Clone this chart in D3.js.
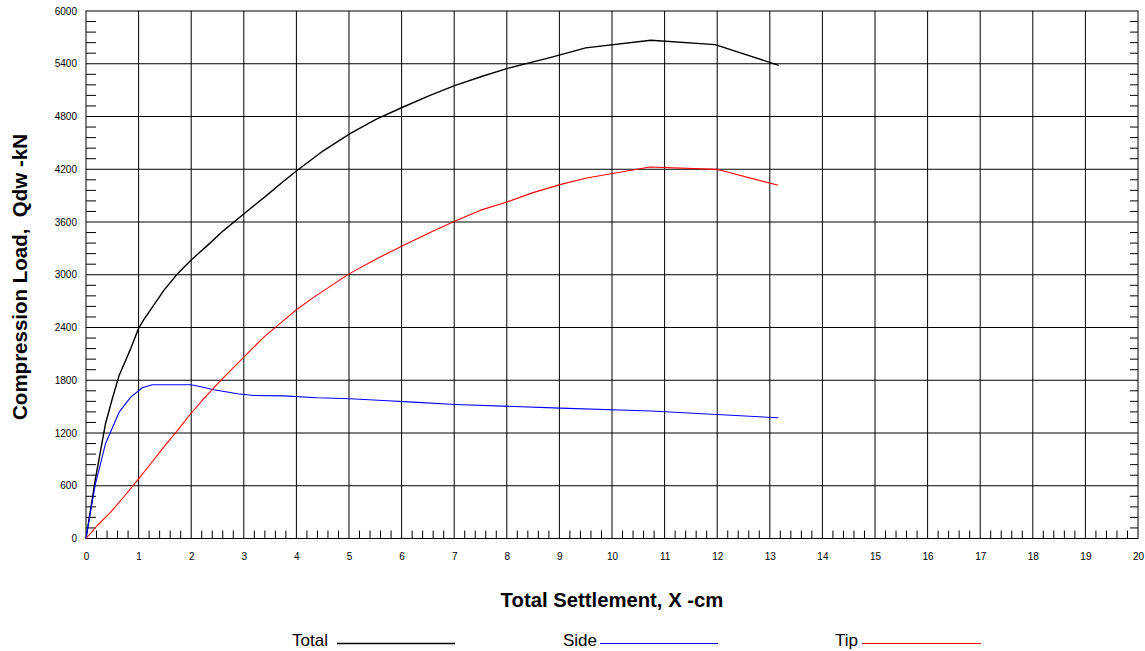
<!DOCTYPE html>
<html><head><meta charset="utf-8">
<script src="https://cdn.jsdelivr.net/npm/d3@7"></script>
<style>
html,body{margin:0;padding:0;background:#fff;}
svg{display:block;font-family:"Liberation Sans",Arial,sans-serif;}
</style></head>
<body>
<svg id="chart" width="1145" height="651"></svg>
<script>
// ---- data ----
const totalSettlement = [0, 0.18, 0.37, 0.5, 0.63, 0.85, 1.0, 1.09, 1.48, 1.74, 1.99, 2.31, 2.62, 3.12, 3.43, 3.75, 4.0, 4.51, 5.02, 5.52, 6.03, 6.54, 7.02, 7.55, 8.0, 8.82, 9.5, 10.74, 11.96, 13.17];
const totalLoad       = [0, 680, 1305, 1590, 1855, 2160, 2390, 2480, 2822, 3012, 3163, 3334, 3505, 3751, 3900, 4060, 4180, 4410, 4605, 4770, 4908, 5041, 5155, 5261, 5345, 5470, 5580, 5667, 5618, 5382];
const sideSettlement  = [0, 0.09, 0.18, 0.37, 0.63, 0.85, 1.07, 1.26, 1.99, 2.12, 2.43, 2.88, 3.19, 3.76, 4.39, 5.02, 5.65, 6.22, 7.02, 9.01, 10.74, 13.16];
const sideLoad        = [0, 319, 622, 1077, 1437, 1608, 1715, 1749, 1749, 1734, 1692, 1647, 1627, 1622, 1601, 1590, 1570, 1551, 1525, 1483, 1450, 1373];
const tipSettlement   = [0, 0.215, 0.47, 0.72, 1.0, 1.23, 1.45, 1.74, 1.99, 2.24, 2.5, 2.75, 3.0, 3.38, 3.76, 4.0, 4.32, 5.0, 5.52, 6.02, 6.54, 7.02, 7.49, 8.0, 8.5, 9.01, 9.52, 10.72, 11.99, 13.16];
const tipLoad         = [0, 148, 300, 475, 679, 850, 1020, 1229, 1419, 1590, 1760, 1912, 2063, 2291, 2481, 2602, 2740, 3010, 3180, 3330, 3480, 3611, 3732, 3827, 3934, 4025, 4100, 4225, 4199, 4017];
const xTicks = d3.range(0, 21, 1);
const yTicks = d3.range(0, 6001, 600);
const seriesNames = ["Total", "Side", "Tip"];
const seriesColors = ["#000000", "#0000ff", "#ff0000"];

// ---- layout ----
const svg = d3.select("#chart");
const L = 86, R = 1138, T = 11, B = 538.5;
const x = d3.scaleLinear().domain([0, 20]).range([L, R]);
const y = d3.scaleLinear().domain([0, 6000]).range([B, T]);

// grid
const g = svg.append("g");
g.selectAll(".vg").data(xTicks.slice(1, -1)).join("line")
  .attr("x1", d => x(d)).attr("x2", d => x(d)).attr("y1", T).attr("y2", B)
  .attr("stroke", "#000").attr("stroke-width", 1);
g.selectAll(".hg").data(yTicks.slice(1, -1)).join("line")
  .attr("x1", L).attr("x2", R).attr("y1", d => y(d)).attr("y2", d => y(d))
  .attr("stroke", "#000").attr("stroke-width", 1);

// minor ticks
const xMinor = d3.range(0, 20.001, 0.2).filter(v => Math.abs(v - Math.round(v)) > 1e-6);
g.selectAll(".xm").data(xMinor).join("line")
  .attr("x1", d => x(d)).attr("x2", d => x(d)).attr("y1", B).attr("y2", B - 8)
  .attr("stroke", "#000").attr("stroke-width", 1);
const yMinor = d3.range(0, 6000.1, 120).filter(v => v % 600 !== 0);
g.selectAll(".ymL").data(yMinor).join("line")
  .attr("x1", L).attr("x2", L + 10).attr("y1", d => y(d)).attr("y2", d => y(d))
  .attr("stroke", "#000").attr("stroke-width", 1);
g.selectAll(".ymR").data(yMinor).join("line")
  .attr("x1", R).attr("x2", R - 8).attr("y1", d => y(d)).attr("y2", d => y(d))
  .attr("stroke", "#000").attr("stroke-width", 1);

// border
g.append("rect").attr("x", L).attr("y", T).attr("width", R - L).attr("height", B - T)
  .attr("fill", "none").attr("stroke", "#000").attr("stroke-width", 1);

// axes labels via d3 axes
const xAxis = svg.append("g").attr("transform", `translate(0,${B})`)
  .call(d3.axisBottom(x).tickValues(xTicks).tickSize(0).tickPadding(14).tickFormat(d3.format("d")));
xAxis.select(".domain").remove();
xAxis.selectAll("text").attr("font-size", 10).attr("font-family", "Liberation Sans, Arial, sans-serif").attr("fill", "#000");
const yAxis = svg.append("g").attr("transform", `translate(${L},0)`)
  .call(d3.axisLeft(y).tickValues(yTicks).tickSize(0).tickPadding(9).tickFormat(d3.format("d")));
yAxis.select(".domain").remove();
yAxis.selectAll("text").attr("font-size", 10).attr("font-family", "Liberation Sans, Arial, sans-serif").attr("fill", "#000");

// series
const line = d3.line().x(d => x(d[0])).y(d => y(d[1]));
const series = [
  d3.zip(totalSettlement, totalLoad),
  d3.zip(sideSettlement, sideLoad),
  d3.zip(tipSettlement, tipLoad)
];
const widths = [1.4, 1.1, 1.1];
series.forEach((s, i) => {
  svg.append("path").datum(s).attr("d", line)
    .attr("fill", "none").attr("stroke", seriesColors[i]).attr("stroke-width", widths[i])
    .attr("stroke-linejoin", "round");
});

// axis titles
svg.append("text").attr("x", 612).attr("y", 607).attr("text-anchor", "middle")
  .attr("font-size", 20.3).attr("font-weight", "bold").text("Total Settlement, X -cm");
svg.append("text").attr("transform", "translate(27,277) rotate(-90)").attr("text-anchor", "middle")
  .attr("font-size", 20.5).attr("font-weight", "bold").attr("xml:space", "preserve")
  .style("white-space", "pre").text("Compression Load,  Qdw -kN");

// legend
const legendText = [ {tx: 328, l1: 337, l2: 455}, {tx: 597, l1: 600, l2: 718}, {tx: 858, l1: 862, l2: 981} ];
legendText.forEach((p, i) => {
  svg.append("text").attr("x", p.tx).attr("y", 646).attr("text-anchor", "end")
    .attr("font-size", 17).text(seriesNames[i]);
  svg.append("line").attr("x1", p.l1).attr("x2", p.l2).attr("y1", 643.5).attr("y2", 643.5)
    .attr("stroke", seriesColors[i]).attr("stroke-width", i === 0 ? 1.4 : 1.1);
});
</script>
</body></html>
